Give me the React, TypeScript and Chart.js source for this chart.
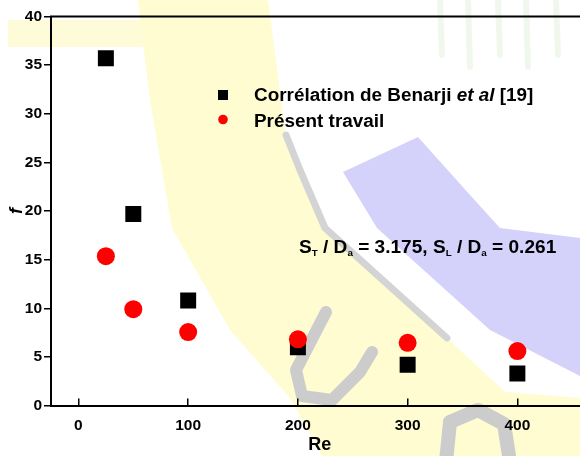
import React, { useEffect, useRef } from 'react';
import { Chart, registerables } from 'chart.js';

Chart.register(...registerables);

const FONT = '"Liberation Sans", Arial, Helvetica, sans-serif';

// Data
const reValues = [25, 50, 100, 200, 300, 400];
const benarjiF = [35.7, 19.7, 10.8, 6.0, 4.2, 3.3];
const presentF = [15.35, 9.9, 7.55, 6.8, 6.45, 5.6];
const xTicks = [0, 100, 200, 300, 400];
const yTicks = [0, 5, 10, 15, 20, 25, 30, 35, 40];
const seriesNames = ['Corrélation de Benarji ', 'et al', ' [19]', 'Présent travail'];
const annotationParts: Array<[string, boolean]> = [
  ['S', false], ['T', true], [' / D', false], ['a', true],
  [' = 3.175, S', false], ['L', true], [' / D', false], ['a', true], [' = 0.261', false],
];

type Pt = [number, number];

function fillPoly(ctx: CanvasRenderingContext2D, pts: Pt[], color: string) {
  ctx.fillStyle = color;
  ctx.beginPath();
  pts.forEach(([x, y], i) => (i ? ctx.lineTo(x, y) : ctx.moveTo(x, y)));
  ctx.closePath();
  ctx.fill();
}
function strokePoly(ctx: CanvasRenderingContext2D, pts: Pt[], color: string, w: number) {
  ctx.strokeStyle = color;
  ctx.lineWidth = w;
  ctx.lineJoin = 'round';
  ctx.lineCap = 'round';
  ctx.beginPath();
  pts.forEach(([x, y], i) => (i ? ctx.lineTo(x, y) : ctx.moveTo(x, y)));
  ctx.stroke();
}

const watermarkPlugin = {
  id: 'watermark',
  beforeDraw(chart: any) {
    const ctx: CanvasRenderingContext2D = chart.ctx;
    ctx.save();
    ctx.fillStyle = '#fdfbd8';
    ctx.fillRect(8, 20, 135, 27);
    fillPoly(ctx, [[138, 0], [268, 0], [285, 130], [325, 228], [447, 338], [505, 392], [580, 398], [580, 456], [322, 456], [290, 398], [230, 330], [172, 228], [150, 100]], '#fefcd0');
    fillPoly(ctx, [[343, 172], [418, 137], [470, 195], [500, 228], [580, 238], [580, 376], [490, 330], [377, 228]], '#d4d2fa');
    strokePoly(ctx, [[286, 135], [300, 170], [325, 228], [447, 338]], '#d4d4d4', 7);
    strokePoly(ctx, [[326, 312], [296, 370], [302, 396], [332, 400], [360, 372], [372, 352]], '#cccccc', 12);
    strokePoly(ctx, [[446, 462], [450, 422], [478, 410], [504, 424], [510, 462]], '#cccccc', 14);
    [440, 468, 498, 526, 556].forEach((x, i) => {
      strokePoly(ctx, [[x, 0], [x + 2, 55 + (i % 2) * 12]], 'rgba(205,232,200,0.3)', 6);
    });
    ctx.restore();
  },
};

function drawStretched(ctx: CanvasRenderingContext2D, parts: Array<{ t: string; font: string; dy?: number }>, x: number, y: number, sx: number) {
  ctx.save();
  ctx.translate(x, y);
  ctx.scale(sx, 1);
  let cx = 0;
  parts.forEach((p) => {
    ctx.font = p.font;
    ctx.fillText(p.t, cx, p.dy || 0);
    cx += ctx.measureText(p.t).width;
  });
  ctx.restore();
}

const overlayPlugin = {
  id: 'overlay',
  afterDraw(chart: any) {
    const ctx: CanvasRenderingContext2D = chart.ctx;
    const { left, right, top } = chart.chartArea;
    ctx.save();
    // top frame line
    ctx.strokeStyle = '#000';
    ctx.lineWidth = 2;
    ctx.beginPath();
    ctx.moveTo(left - 1, top);
    ctx.lineTo(right, top);
    ctx.stroke();

    // legend
    ctx.fillStyle = '#000';
    ctx.fillRect(218, 90, 10, 10);
    ctx.fillStyle = '#ff0000';
    ctx.beginPath();
    ctx.arc(223, 119.5, 4.8, 0, Math.PI * 2);
    ctx.fill();
    ctx.fillStyle = '#000';
    ctx.textBaseline = 'alphabetic';
    ctx.textAlign = 'left';
    const bold = `bold 17.5px ${FONT}`;
    const boldIt = `italic bold 17.5px ${FONT}`;
    drawStretched(ctx, [
      { t: seriesNames[0], font: bold },
      { t: seriesNames[1], font: boldIt },
      { t: seriesNames[2], font: bold },
    ], 254, 100.7, 1.08);
    drawStretched(ctx, [{ t: seriesNames[3], font: bold }], 254, 127, 1.08);

    // annotation
    const sub = `bold 9px ${FONT}`;
    drawStretched(ctx, annotationParts.map(([t, s]) => ({ t, font: s ? sub : bold, dy: s ? 3 : 0 })), 299, 253.3, 1.09);
    ctx.restore();
  },
};

export default function App() {
  const ref = useRef<HTMLCanvasElement | null>(null);
  useEffect(() => {
    if (!ref.current) return;
    const tickFont = { family: FONT, size: 15.5, weight: 'bold' as const };
    const chart = new Chart(ref.current, {
      type: 'scatter',
      data: {
        datasets: [
          {
            label: 'Corrélation de Benarji et al [19]',
            data: reValues.map((x, i) => ({ x, y: benarjiF[i] })),
            pointStyle: 'rect',
            pointRadius: 11.3,
            pointHoverRadius: 11.3,
            backgroundColor: '#000000',
            borderWidth: 0,
            order: 1,
          },
          {
            label: 'Présent travail',
            data: reValues.map((x, i) => ({ x, y: presentF[i] })),
            pointStyle: 'circle',
            pointRadius: 9,
            pointHoverRadius: 9,
            backgroundColor: '#ff0000',
            borderWidth: 0,
            order: 0,
          },
        ],
      },
      options: {
        animation: false,
        responsive: false,
        devicePixelRatio: 1,
        events: [],
        layout: { padding: { top: 16.5, left: 0, right: 0, bottom: 0 } },
        plugins: { legend: { display: false }, tooltip: { enabled: false } },
        scales: {
          x: {
            type: 'linear',
            position: 'bottom',
            min: -25,
            max: 465,
            afterBuildTicks: (s: any) => { s.ticks = xTicks.map((v) => ({ value: v })); },
            afterFit: (s: any) => { s.height = 50.5; },
            ticks: { font: tickFont, color: '#000', padding: 17.5, maxRotation: 0, autoSkip: false },
            grid: { display: true, drawOnChartArea: false, drawTicks: true, tickLength: -7, color: '#000', lineWidth: 1.5 },
            border: { display: true, color: '#000', width: 2 },
            title: { display: true, text: 'Re', color: '#000', font: { family: FONT, size: 18, weight: 'bold' }, padding: { top: 0, bottom: 0 } },
          },
          y: {
            type: 'linear',
            position: 'left',
            min: 0,
            max: 40,
            afterBuildTicks: (s: any) => { s.ticks = yTicks.map((v) => ({ value: v })); },
            afterFit: (s: any) => { s.width = 51; },
            ticks: { font: tickFont, color: '#000', padding: 2 },
            grid: { display: true, drawOnChartArea: false, drawTicks: true, tickLength: 7, color: '#000', lineWidth: 1.5 },
            border: { display: true, color: '#000', width: 2 },
            title: { display: true, text: 'f', color: '#000', font: { family: FONT, size: 18, weight: 'bold', style: 'italic' }, padding: { top: 6.5, bottom: 0 } },
          },
        },
      },
      plugins: [watermarkPlugin, overlayPlugin],
    });
    return () => chart.destroy();
  }, []);
  return (
    <div style={{ position: 'fixed', left: 0, top: 0, width: 580, height: 456, overflow: 'hidden', background: '#fff' }}>
      <canvas ref={ref} width={600} height={456} style={{ width: 600, height: 456, display: 'block' }} />
    </div>
  );
}
